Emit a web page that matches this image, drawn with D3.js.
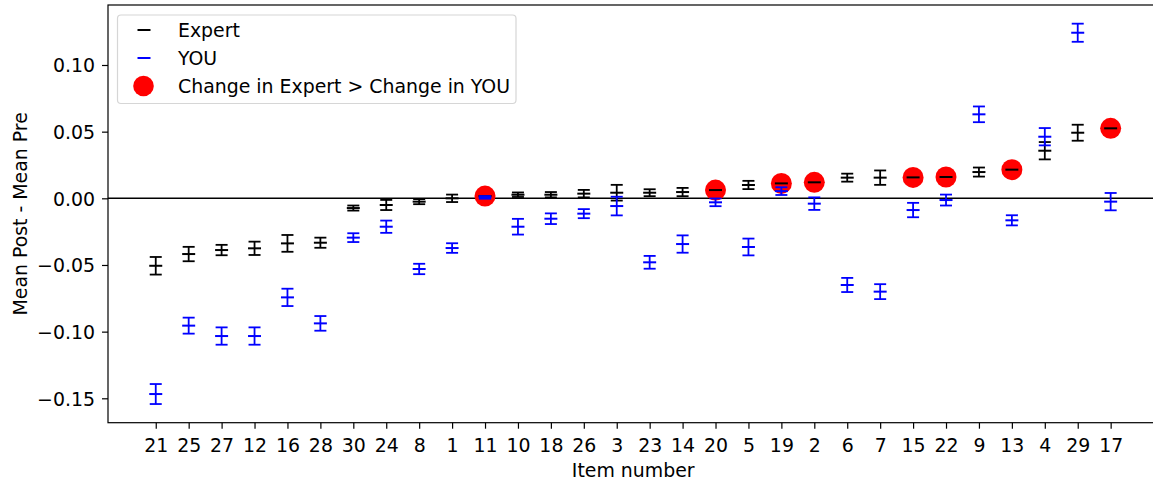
<!DOCTYPE html>
<html>
<head>
<meta charset="utf-8">
<script src="https://cdn.jsdelivr.net/npm/d3@7"></script>
<style>
    body { margin: 0; background: white; }
    text { font-family: "DejaVu Sans", sans-serif; }
</style>
</head>
<body>
<div id="svgcontainer"></div>
<script>
// item order along the x axis (sorted by expert change)
const items = [21, 25, 27, 12, 16, 28, 30, 24, 8, 1, 11, 10, 18, 26, 3, 23, 14, 20, 5, 19, 2, 6, 7, 15, 22, 9, 13, 4, 29, 17]

// mean post - mean pre, and error (half bar height)
const expert_mean = [-0.0506, -0.0418, -0.0388, -0.0375, -0.0338, -0.0333, -0.0073, -0.0050, -0.0025, 0.0000,
    0.0017, 0.0027, 0.0027, 0.0035, 0.0042, 0.0042, 0.0047, 0.0062, 0.0100, 0.0112,
    0.0120, 0.0155, 0.0155, 0.0157, 0.0160, 0.0197, 0.0215, 0.0357, 0.0492, 0.0525]
const expert_err = [0.0066, 0.0054, 0.0039, 0.0050, 0.0063, 0.0038, 0.0019, 0.0038, 0.0019, 0.0028,
    0.0020, 0.0017, 0.0020, 0.0028, 0.0059, 0.0026, 0.0031, 0.0030, 0.0031, 0.0030,
    0.0030, 0.0030, 0.0054, 0.0030, 0.0030, 0.0034, 0.0030, 0.0065, 0.0060, 0.0030]

const you_mean = [-0.1468, -0.0955, -0.1033, -0.1033, -0.0743, -0.0938, -0.0295, -0.0213, -0.0530, -0.0373,
    0.0007, -0.0213, -0.0153, -0.0115, -0.0058, -0.0480, -0.0343, -0.0030, -0.0365, 0.0054,
    -0.0040, -0.0650, -0.0700, -0.0088, -0.0013, 0.0630, -0.0165, 0.0462, 0.1242, -0.0025]
const you_err = [0.0075, 0.0060, 0.0065, 0.0065, 0.0065, 0.0055, 0.0033, 0.0046, 0.0039, 0.0036,
    0.0010, 0.0059, 0.0040, 0.0034, 0.0070, 0.0048, 0.0065, 0.0029, 0.0063, 0.0029,
    0.0047, 0.0053, 0.0056, 0.0054, 0.0041, 0.0059, 0.0038, 0.0065, 0.0068, 0.0065]

// items where change in Expert > change in YOU
const red_items = [11, 20, 19, 2, 15, 22, 13, 17]

const y_ticks = [-0.15, -0.10, -0.05, 0.00, 0.05, 0.10]
const y_domain = [-0.1683, 0.145]

const svg_width = 1153,
    svg_height = 483,
    plot = { left: 108, right: 1158.4, top: 5, bottom: 422.7 },
    font_size = 18.9

let svg = d3.select('#svgcontainer')
    .append('svg')
    .attr('width', svg_width)
    .attr('height', svg_height)

let xScale = d3.scalePoint().domain(items).range([plot.left, plot.right]).padding(1.45),
    yScale = d3.scaleLinear().domain(y_domain).range([plot.bottom, plot.top])

// x axis
let xAxis = svg.append('g')
    .attr('transform', 'translate(0,' + plot.bottom + ')')
    .call(d3.axisBottom(xScale).tickSize(6).tickPadding(10))
xAxis.select('.domain').remove()
xAxis.selectAll('text').attr('font-size', font_size).attr('font-family', 'DejaVu Sans').attr('fill', 'black')
xAxis.selectAll('line').attr('stroke-width', 1.2)

// y axis
let yAxis = svg.append('g')
    .attr('transform', 'translate(' + plot.left + ',0)')
    .call(d3.axisLeft(yScale).tickValues(y_ticks).tickFormat(d3.format('.2f')).tickSize(6).tickPadding(7))
yAxis.select('.domain').remove()
yAxis.selectAll('text').attr('font-size', font_size).attr('font-family', 'DejaVu Sans').attr('fill', 'black').attr('dy', '0.36em')
yAxis.selectAll('line').attr('stroke-width', 1.2)

// frame
svg.append('rect')
    .attr('x', plot.left)
    .attr('y', plot.top)
    .attr('width', plot.right - plot.left)
    .attr('height', plot.bottom - plot.top)
    .attr('fill', 'none')
    .attr('stroke', 'black')
    .attr('stroke-width', 1.2)

// zero line
svg.append('line')
    .attr('x1', plot.left).attr('x2', plot.right)
    .attr('y1', yScale(0)).attr('y2', yScale(0))
    .attr('stroke', 'black')
    .attr('stroke-width', 1.5)

// axis labels
svg.append('text')
    .attr('x', (plot.left + plot.right) / 2)
    .attr('y', 477)
    .attr('text-anchor', 'middle')
    .attr('font-size', font_size)
    .text('Item number')

svg.append('text')
    .attr('transform', 'translate(27,' + (plot.top + plot.bottom) / 2 + ') rotate(-90)')
    .attr('text-anchor', 'middle')
    .attr('font-size', font_size)
    .text('Mean Post - Mean Pre')

const cap_w = 6, mark_w = 6.5

function draw_bars(means, errs, color) {
    let g = svg.append('g').attr('stroke', color).attr('stroke-width', 1.8)
    items.forEach((item, i) => {
        let x = xScale(item)
        g.append('line')
            .attr('x1', x).attr('x2', x)
            .attr('y1', yScale(means[i] - errs[i])).attr('y2', yScale(means[i] + errs[i]))
        // caps
        for (let v of [means[i] - errs[i], means[i] + errs[i]]) {
            g.append('line')
                .attr('x1', x - cap_w).attr('x2', x + cap_w)
                .attr('y1', yScale(v)).attr('y2', yScale(v))
        }
    })
}

function draw_markers(means, color) {
    let g = svg.append('g').attr('stroke', color).attr('stroke-width', 2)
    items.forEach((item, i) => {
        g.append('line')
            .attr('x1', xScale(item) - mark_w).attr('x2', xScale(item) + mark_w)
            .attr('y1', yScale(means[i])).attr('y2', yScale(means[i]))
    })
}

draw_bars(expert_mean, expert_err, 'black')

// red circles at expert mean
svg.append('g')
    .selectAll('circle')
    .data(red_items)
    .join('circle')
    .attr('cx', d => xScale(d))
    .attr('cy', d => yScale(expert_mean[items.indexOf(d)]))
    .attr('r', 10.5)
    .attr('fill', 'red')

draw_markers(expert_mean, 'black')
draw_bars(you_mean, you_err, 'blue')
draw_markers(you_mean, 'blue')

// legend
let legend = svg.append('g')
legend.append('rect')
    .attr('x', 117.5).attr('y', 15)
    .attr('width', 398.5).attr('height', 88.5)
    .attr('rx', 3.5)
    .attr('fill', 'white').attr('fill-opacity', 0.8)
    .attr('stroke', '#d6d6d6').attr('stroke-width', 1.2)

const legend_rows = [
    { label: 'Expert', kind: 'line', color: 'black', y: 30 },
    { label: 'YOU', kind: 'line', color: 'blue', y: 58 },
    { label: 'Change in Expert > Change in YOU', kind: 'dot', color: 'red', y: 86 }
]
legend_rows.forEach(row => {
    if (row.kind === 'line') {
        legend.append('line')
            .attr('x1', 144 - mark_w).attr('x2', 144 + mark_w)
            .attr('y1', row.y).attr('y2', row.y)
            .attr('stroke', row.color).attr('stroke-width', 2)
    } else {
        legend.append('circle')
            .attr('cx', 143.5).attr('cy', row.y).attr('r', 10.3)
            .attr('fill', row.color)
    }
    legend.append('text')
        .attr('x', 178)
        .attr('y', row.y + 6.8)
        .attr('font-size', font_size)
        .text(row.label)
})
</script>
</body>
</html>
